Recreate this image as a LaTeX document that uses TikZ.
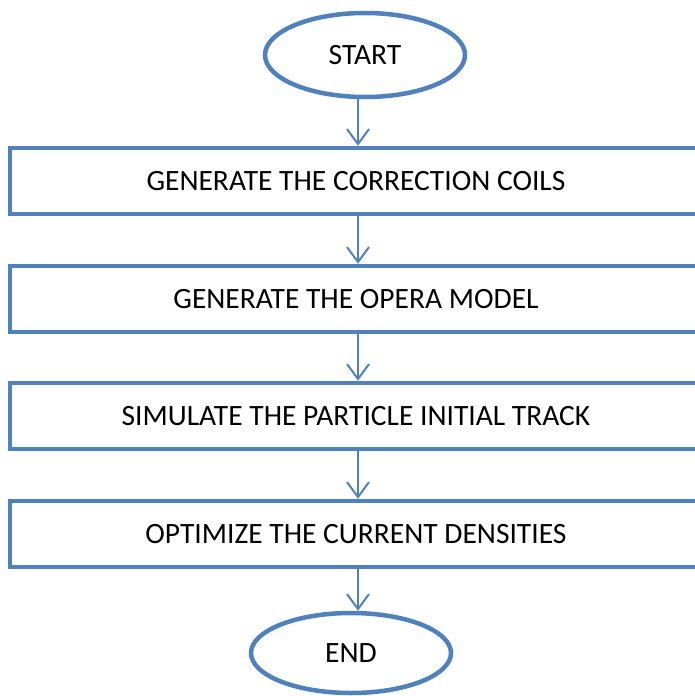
\documentclass[tikz,border=0pt]{standalone}
\usepackage{fontspec}
\setmainfont{Carlito}
\usetikzlibrary{shapes.geometric,arrows.meta}
\definecolor{ob}{HTML}{4F81BD}
\tikzset{
  procbox/.style={draw=ob,line width=4.5pt,minimum width=692pt,minimum height=66pt,inner sep=0pt,font=\fontsize{29.5}{34}\selectfont},
  term/.style={ellipse,draw=ob,line width=4.5pt,minimum width=200pt,minimum height=84pt,inner sep=0pt,font=\fontsize{29.5}{34}\selectfont},
  arr/.style={draw=ob,line width=2pt,-{Straight Barb[length=15pt,width=22pt,line width=2pt]}}
}
\begin{document}
\begin{tikzpicture}[x=1pt,y=-1pt]
\useasboundingbox (0,0) rectangle (694,696);
\node[term] (s) at (365,55) {START};
\node[procbox] (b1) at (356,181) {GENERATE THE CORRECTION COILS};
\node[procbox] (b2) at (356,299) {GENERATE THE OPERA MODEL};
\node[procbox] (b3) at (356,416) {SIMULATE THE PARTICLE INITIAL TRACK};
\node[procbox] (b4) at (356,534) {OPTIMIZE THE CURRENT DENSITIES};
\node[term,minimum height=80pt] (e) at (351,653) {END};
\coordinate (ax) at (358,0);
\draw[arr] (s.south -| ax) -- (b1.north -| ax);
\draw[arr] (b1.south -| ax) -- (b2.north -| ax);
\draw[arr] (b2.south -| ax) -- (b3.north -| ax);
\draw[arr] (b3.south -| ax) -- (b4.north -| ax);
\draw[arr] (b4.south -| ax) -- (e.north -| ax);
\end{tikzpicture}
\end{document}
